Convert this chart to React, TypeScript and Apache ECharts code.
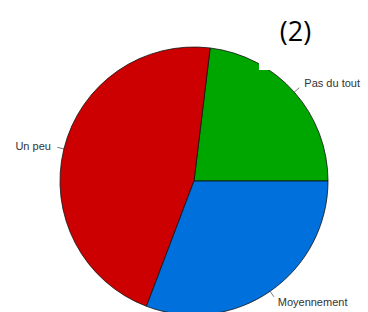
import React, { useEffect, useRef } from "react";
import * as echarts from "echarts";

const categories = ["Pas du tout", "Un peu", "Moyennement"];
const values = [3, 6, 4];
const colors = ["#00A600", "#CC0000", "#0070DD"];
const titleText = "(2)";

const R = 134;

export default function App() {
  const ref = useRef<HTMLDivElement>(null);
  useEffect(() => {
    if (!ref.current) return;
    const chart = echarts.init(ref.current, null, { renderer: "svg" });
    chart.setOption({
      animation: false,
      backgroundColor: "#ffffff",
      graphic: [
        {
          type: "text",
          x: 295.5,
          y: 30,
          z: 10,
          style: {
            text: titleText,
            fontFamily: "Open Sans",
            fontSize: 27,
            fill: "#000",
            textAlign: "center",
            textVerticalAlign: "middle",
          },
        },
        {
          type: "rect",
          z: 100,
          shape: { x: 259, y: 52, width: 13, height: 18 },
          style: { fill: "#ffffff" },
        },
      ],
      series: [
        {
          type: "pie",
          center: [194, 181],
          radius: [0, R],
          startAngle: 0,
          clockwise: false,
          sort: false,
          avoidLabelOverlap: false,
          data: categories.map((name, i) => ({
            name,
            value: values[i],
            itemStyle: { color: colors[i] },
          })),
          itemStyle: { borderColor: "#111", borderWidth: 0.8 },
          emphasis: { disabled: true },
          label: {
            show: true,
            position: "outside",
            formatter: "{b}",
            fontFamily: "Liberation Sans",
            fontSize: 11,
            color: "#333",
            distanceToLabelLine: 5,
          },
          labelLine: {
            show: true,
            length: R * 0.05,
            length2: 0,
            smooth: false,
            lineStyle: { color: "#555", width: 0.8 },
          },
          labelLayout: (params: any) => {
            const pts = params.labelLinePoints;
            if (!pts || pts.length < 2) return {};
            const p0 = pts[0];
            const p1 = pts[1];
            const vx = p1[0] - p0[0];
            const vy = p1[1] - p0[1];
            const len = Math.hypot(vx, vy) || 1;
            const ux = vx / len;
            const uy = vy / len;
            const e = [p0[0] + ux * R * 0.05, p0[1] + uy * R * 0.05];
            return {
              x: p0[0] + ux * R * 0.1,
              y: p0[1] + uy * R * 0.1,
              align: ux < 0 ? "right" : "left",
              verticalAlign: "middle",
              labelLinePoints: [[p0[0], p0[1]], e, [e[0], e[1]]],
            };
          },
        },
      ],
    });
    return () => chart.dispose();
  }, []);
  return (
    <div
      ref={ref}
      style={{ position: "absolute", left: 0, top: 0, width: 368, height: 312 }}
    />
  );
}
